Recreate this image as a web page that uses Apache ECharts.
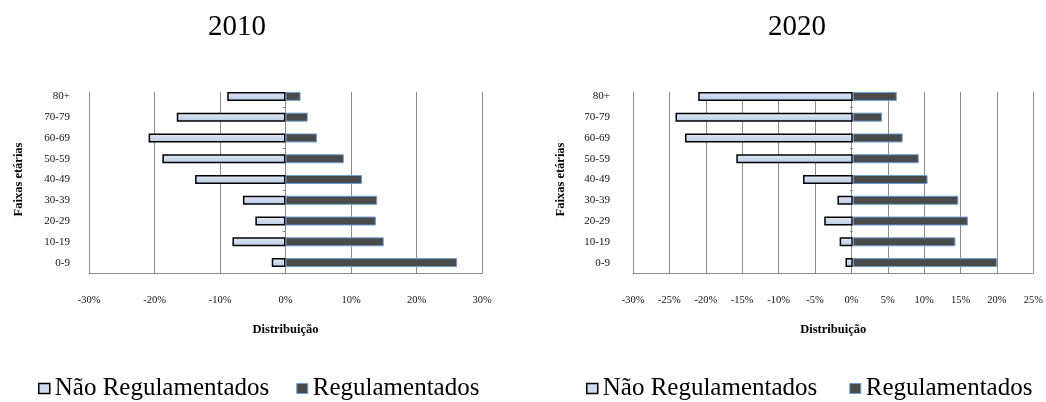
<!DOCTYPE html>
<html>
<head>
<meta charset="utf-8">
<script src="https://cdn.jsdelivr.net/npm/echarts@6/dist/echarts.min.js"></script>
<style>
  html, body { margin: 0; padding: 0; background: #ffffff; }
  #chart { width: 1046px; height: 402px; }
</style>
</head>
<body>
<div id="chart"></div>
<script>
// Age groups, bottom to top
const ageGroups = ['0-9', '10-19', '20-29', '30-39', '40-49', '50-59', '60-69', '70-79', '80+'];

// 2010 distribution (%), non-regulated shown to the left of zero
const naoReg2010 = [-2.1, -8.1, -4.6, -6.5, -13.8, -18.8, -20.9, -16.6, -8.9];
const reg2010 = [26.2, 15.0, 13.8, 14.0, 11.7, 8.9, 4.8, 3.4, 2.3];

// 2020 distribution (%)
const naoReg2020 = [-1.0, -1.8, -3.9, -2.1, -6.8, -15.9, -22.9, -24.2, -21.1];
const reg2020 = [19.7, 14.0, 15.7, 14.4, 10.2, 9.0, 6.8, 4.0, 6.0];

// Axis ranges
const range2010 = { min: -30, max: 30, interval: 10 };
const range2020 = { min: -30, max: 25, interval: 5 };

// Band boundaries (counted from the bottom) that carry a tick on the zero line
const zeroLineTicks = [2, 4, 6, 8];

const seriesNames = ['Não Regulamentados', 'Regulamentados'];
const yearTitles = ['2010', '2020'];
const axisTitleX = 'Distribuição';
const axisTitleY = 'Faixas etárias';

const FONT = "'Liberation Serif', 'Times New Roman', serif";
const GRID_COLOR = '#8c8c8c';

const naoFill = new echarts.graphic.LinearGradient(0, 0, 0, 1, [
  { offset: 0, color: '#e4ecf7' },
  { offset: 1, color: '#b4c8e4' }
]);
const naoStyle = { color: naoFill, borderColor: '#000000', borderWidth: 1.5 };
const regStyle = { color: '#4a4a4a', borderColor: '#6f9dd3', borderWidth: 1 };

const chart = echarts.init(document.getElementById('chart'), null, { renderer: 'canvas' });

// Each panel uses two grids: one carrying the bars (category bands),
// one carrying the gridlines and the percentage axis.
const panels = [
  { left: 89, right: 564, labelMargin: 19, nameGap: 64, range: range2010, nao: naoReg2010, reg: reg2010 },
  { left: 633, right: 10, labelMargin: 23, nameGap: 66, range: range2020, nao: naoReg2020, reg: reg2020 }
];

const grid = [], xAxis = [], yAxis = [], series = [];

panels.forEach((p, i) => {
  const barGrid = grid.length;
  grid.push({ left: p.left, right: p.right, top: 86, bottom: 129 });
  const lineGrid = grid.length;
  grid.push({ left: p.left, right: p.right, top: 92, bottom: 129 });

  // hidden value axis for the bars
  const barX = xAxis.length;
  xAxis.push({
    type: 'value', gridIndex: barGrid,
    min: p.range.min, max: p.range.max, interval: p.range.interval,
    show: false
  });
  // visible percentage axis with vertical gridlines
  xAxis.push({
    type: 'value', gridIndex: lineGrid, position: 'bottom',
    min: p.range.min, max: p.range.max, interval: p.range.interval,
    axisLine: { show: true, onZero: false, lineStyle: { color: GRID_COLOR, width: 1 } },
    axisTick: { show: false },
    axisLabel: {
      margin: 22, color: '#111', fontFamily: FONT, fontSize: 10.5,
      formatter: '{value}%'
    },
    splitLine: { show: true, lineStyle: { color: GRID_COLOR, width: 1 } },
    name: axisTitleX, nameLocation: 'middle', nameGap: 50,
    nameTextStyle: { fontFamily: FONT, fontSize: 12.5, fontWeight: 'bold', color: '#000' }
  });

  // category labels on the left
  const barY = yAxis.length;
  yAxis.push({
    type: 'category', gridIndex: barGrid, data: ageGroups, position: 'left',
    axisLine: { show: false, onZero: false },
    axisTick: { show: false },
    axisLabel: { margin: p.labelMargin, color: '#111', fontFamily: FONT, fontSize: 11 },
    name: axisTitleY, nameLocation: 'middle', nameRotate: 90, nameGap: p.nameGap,
    nameTextStyle: { fontFamily: FONT, fontSize: 12.5, fontWeight: 'bold', color: '#000' }
  });
  // small tick marks along the zero line
  yAxis.push({
    type: 'value', gridIndex: barGrid, position: 'left',
    min: 0, max: ageGroups.length,
    axisLine: { show: true, onZero: true, lineStyle: { color: 'rgba(0,0,0,0)' } },
    axisTick: { show: true, length: 3, lineStyle: { color: GRID_COLOR }, customValues: zeroLineTicks },
    axisLabel: { show: false },
    splitLine: { show: false }
  });
  // placeholder axis for the gridline grid
  yAxis.push({ type: 'value', gridIndex: lineGrid, show: false, min: 0, max: 1 });

  series.push({
    name: seriesNames[0], type: 'bar', xAxisIndex: barX, yAxisIndex: barY,
    data: p.nao, barWidth: 9, barGap: '-100%', itemStyle: naoStyle,
    silent: true
  });
  series.push({
    name: seriesNames[1], type: 'bar', xAxisIndex: barX, yAxisIndex: barY,
    data: p.reg, barWidth: 9, barGap: '-100%', itemStyle: regStyle,
    silent: true
  });
});

const legendBase = {
  top: 371, orient: 'horizontal', icon: 'rect', itemWidth: 11, itemHeight: 10,
  textStyle: { fontFamily: FONT, fontSize: 25, color: '#000' },
  selectedMode: false,
  data: [
    { name: seriesNames[0], itemStyle: { color: '#cfdcef', borderColor: '#000', borderWidth: 1.5 } },
    { name: seriesNames[1], itemStyle: { color: '#4a4a4a', borderColor: '#6f9dd3', borderWidth: 1 } }
  ]
};

const option = {
  backgroundColor: '#ffffff',
  animation: false,
  grid, xAxis, yAxis, series,
  legend: [
    Object.assign({}, legendBase, { left: 33, itemGap: 27 }),
    Object.assign({}, legendBase, { left: 581, itemGap: 32 })
  ],
  graphic: [
    { type: 'text', x: 237, y: 27, style: { text: yearTitles[0], font: '29px ' + FONT, fill: '#000', textAlign: 'center', textVerticalAlign: 'middle' } },
    { type: 'text', x: 797, y: 27, style: { text: yearTitles[1], font: '29px ' + FONT, fill: '#000', textAlign: 'center', textVerticalAlign: 'middle' } }
  ]
};

chart.setOption(option);
</script>
</body>
</html>
